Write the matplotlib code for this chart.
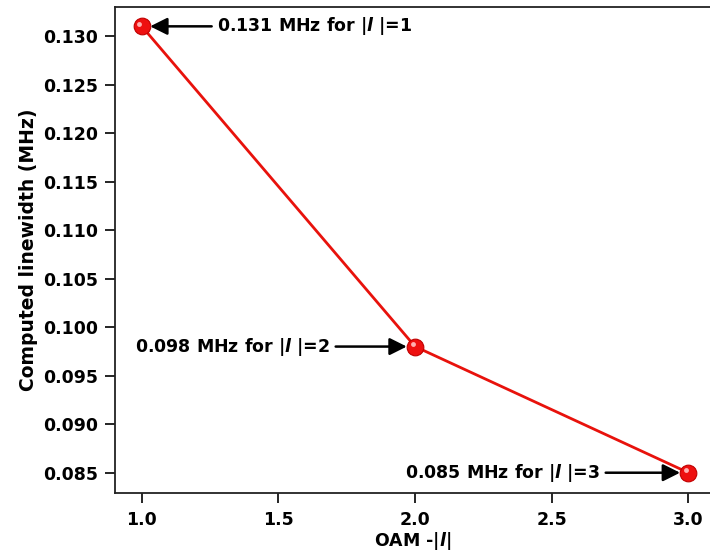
import matplotlib
matplotlib.use('Agg')
import matplotlib.pyplot as plt
from matplotlib import transforms

plt.rcParams['font.family'] = ['DejaVu Sans']
plt.rcParams['font.weight'] = 'bold'
plt.rcParams['mathtext.fontset'] = 'custom'
plt.rcParams['mathtext.it'] = 'DejaVu Sans:italic:bold'
plt.rcParams['mathtext.rm'] = 'DejaVu Sans:bold'

oam = [1.0, 2.0, 3.0]
linewidth = [0.131, 0.098, 0.085]
labels = ['0.131 MHz for |$\\mathit{l}$ |=1', '0.098 MHz for |$\\mathit{l}$ |=2', '0.085 MHz for |$\\mathit{l}$ |=3']
yticks = [0.085, 0.090, 0.095, 0.100, 0.105, 0.110, 0.115, 0.120, 0.125, 0.130]
xticks = [1.0, 1.5, 2.0, 2.5, 3.0]

fig = plt.figure(figsize=(7.1, 5.59), dpi=100)
ax = fig.add_axes([0.162, 0.1186, 0.838, 0.8683])

ax.plot(oam, linewidth, '-', color='#e8120c', lw=2, zorder=2)
ax.plot(oam, linewidth, 'o', color='#ee1010', ms=12, mec='#c00000', mew=0.8, zorder=3)
# small highlight on each ball
hl = ax.transData + transforms.ScaledTranslation(-0.025, 0.025, fig.dpi_scale_trans)
ax.plot(oam, linewidth, 'o', color='#ffb0b0', ms=3.5, mew=0, zorder=4, transform=hl)

ap = dict(arrowstyle='-|>', mutation_scale=26, lw=1.8, color='black')
fs = 12.5
ax.annotate(labels[0], xy=(oam[0], linewidth[0]), xytext=(1.276, linewidth[0]), ha='left', va='center',
            fontsize=fs, fontweight='bold', arrowprops=dict(ap, shrinkA=2, shrinkB=6))
ax.annotate(labels[1], xy=(oam[1], linewidth[1]), xytext=(1.689, linewidth[1]), ha='right', va='center',
            fontsize=fs, fontweight='bold', arrowprops=dict(ap, shrinkA=2, shrinkB=6))
ax.annotate(labels[2], xy=(oam[2], linewidth[2]), xytext=(2.677, linewidth[2]), ha='right', va='center',
            fontsize=fs, fontweight='bold', arrowprops=dict(ap, shrinkA=2, shrinkB=6))

ax.set_xlim(0.902, 3.079)
ax.set_ylim(0.08294, 0.13296)
ax.set_xticks(xticks)
ax.set_yticks(yticks)
ax.set_xticklabels([f'{v:.1f}' for v in xticks])
ax.set_yticklabels([f'{v:.3f}' for v in yticks])
ax.tick_params(direction='out', length=7, width=1.2, labelsize=12.5)
ax.tick_params(axis='x', pad=6)
ax.tick_params(axis='y', pad=5)
for lab in ax.get_xticklabels() + ax.get_yticklabels():
    lab.set_fontweight('bold')
for s in ['left', 'bottom', 'top']:
    ax.spines[s].set_linewidth(1.3)
    ax.spines[s].set_color('#222222')
ax.spines['right'].set_visible(False)

ax.set_xlabel('OAM -|$\\mathit{l}$|', fontsize=12.5, fontweight='bold', labelpad=1)
ax.set_ylabel('Computed linewidth (MHz)', fontsize=13.5, fontweight='bold', labelpad=4)

fig.savefig('out.png', dpi=100)
